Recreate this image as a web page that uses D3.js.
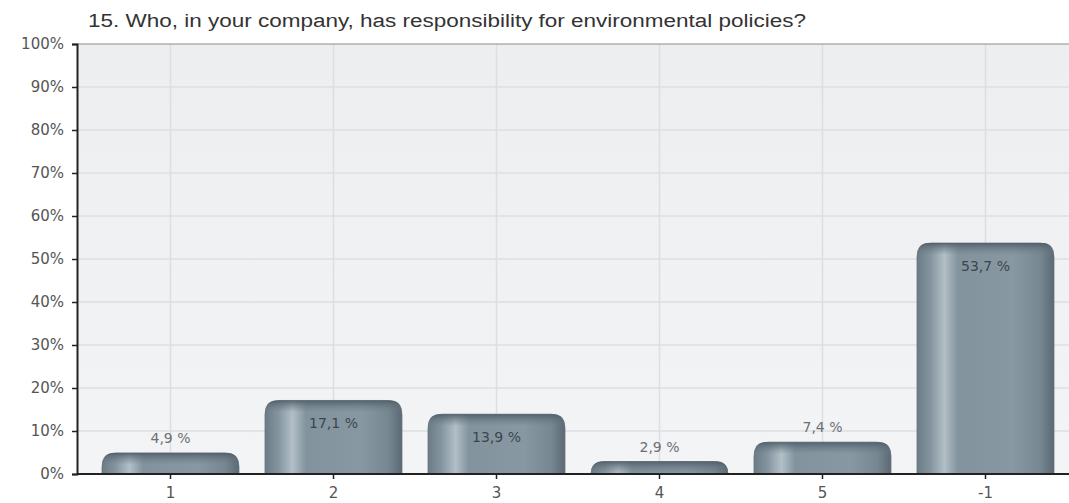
<!DOCTYPE html>
<html>
<head>
<meta charset="utf-8">
<script src="https://cdn.jsdelivr.net/npm/d3@7"></script>
<style>
  body { margin: 0; background: #fff; }
  svg { font-family: "DejaVu Sans", sans-serif; }
</style>
</head>
<body>
<script>
// chart data
var categories = ["1", "2", "3", "4", "5", "-1"];
var values = [4.9, 17.1, 13.9, 2.9, 7.4, 53.7];
var valueLabels = ["4,9 %", "17,1 %", "13,9 %", "2,9 %", "7,4 %", "53,7 %"];
var yTicks = [0, 10, 20, 30, 40, 50, 60, 70, 80, 90, 100];
var title = "15. Who, in your company, has responsibility for environmental policies?";

var width = 1069, height = 503;
var plotLeft = 77, plotRight = 1069, plotTop = 44, plotBottom = 474;

var svg = d3.select("body").append("svg")
  .attr("width", width)
  .attr("height", height);

var defs = svg.append("defs");

// background of plot area
var bg = defs.append("linearGradient").attr("id", "bg")
  .attr("x1", 0).attr("y1", 0).attr("x2", 0).attr("y2", 1);
bg.append("stop").attr("offset", "0%").attr("stop-color", "#eceef0");
bg.append("stop").attr("offset", "100%").attr("stop-color", "#f3f4f5");

// metallic bar body
var bar = defs.append("linearGradient").attr("id", "bar")
  .attr("x1", 0).attr("y1", 0).attr("x2", 1).attr("y2", 0);
bar.append("stop").attr("offset", "0%").attr("stop-color", "#6c7c87");
bar.append("stop").attr("offset", "10%").attr("stop-color", "#8595a0");
bar.append("stop").attr("offset", "20%").attr("stop-color", "#b2bfc7");
bar.append("stop").attr("offset", "30%").attr("stop-color", "#82939e");
bar.append("stop").attr("offset", "70%").attr("stop-color", "#8898a3");
bar.append("stop").attr("offset", "90%").attr("stop-color", "#778792");
bar.append("stop").attr("offset", "100%").attr("stop-color", "#5a6973");

// darker cap on the top of the bar
var cap = defs.append("linearGradient").attr("id", "cap")
  .attr("x1", 0).attr("y1", 0).attr("x2", 0).attr("y2", 1);
cap.append("stop").attr("offset", "0%").attr("stop-color", "#4e5c66").attr("stop-opacity", 0.9);
cap.append("stop").attr("offset", "100%").attr("stop-color", "#6d7d88").attr("stop-opacity", 0);

var x = d3.scaleBand()
  .domain(categories)
  .range([89, 1067])
  .paddingInner(0.16)
  .paddingOuter(0.08);

var y = d3.scaleLinear()
  .domain([0, 100])
  .range([plotBottom, plotTop]);

svg.append("rect")
  .attr("x", plotLeft).attr("y", plotTop)
  .attr("width", plotRight - plotLeft).attr("height", plotBottom - plotTop)
  .attr("fill", "url(#bg)");

// grid lines
svg.append("g").selectAll("line.h")
  .data(yTicks.slice(1, -1))
  .enter().append("line")
  .attr("x1", plotLeft).attr("x2", plotRight)
  .attr("y1", function(d) { return y(d); })
  .attr("y2", function(d) { return y(d); })
  .attr("stroke", "#dcdfe2").attr("stroke-width", 1.5);

svg.append("g").selectAll("line.v")
  .data(categories)
  .enter().append("line")
  .attr("x1", function(d) { return x(d) + x.bandwidth() / 2; })
  .attr("x2", function(d) { return x(d) + x.bandwidth() / 2; })
  .attr("y1", plotTop).attr("y2", plotBottom)
  .attr("stroke", "#dcdfe2").attr("stroke-width", 1.5);

// top border
svg.append("line")
  .attr("x1", plotLeft).attr("x2", plotRight)
  .attr("y1", plotTop).attr("y2", plotTop)
  .attr("stroke", "#8a8d90").attr("stroke-width", 1.2);

// bars with rounded top corners
function barPath(x0, w, top, bottom, r) {
  r = Math.min(r, bottom - top, w / 2);
  return "M" + x0 + "," + bottom +
    "V" + (top + r) +
    "Q" + x0 + "," + top + " " + (x0 + r) + "," + top +
    "H" + (x0 + w - r) +
    "Q" + (x0 + w) + "," + top + " " + (x0 + w) + "," + (top + r) +
    "V" + bottom + "Z";
}

var bars = svg.append("g").selectAll("g")
  .data(values)
  .enter().append("g");

bars.append("path")
  .attr("d", function(d, i) { return barPath(x(categories[i]), x.bandwidth(), y(d), plotBottom, 14); })
  .attr("fill", "url(#bar)")
  .attr("stroke", "#5f6d76").attr("stroke-width", 0.8);

bars.append("path")
  .attr("d", function(d, i) {
    var top = y(d), h = Math.min(12, plotBottom - top);
    return barPath(x(categories[i]), x.bandwidth(), top, top + h, 14);
  })
  .attr("fill", "url(#cap)");

// value labels: inside for tall bars, above for short ones
bars.append("text")
  .attr("x", function(d, i) { return x(categories[i]) + x.bandwidth() / 2; })
  .attr("y", function(d) { return d > 10 ? y(d) + 28 : y(d) - 10; })
  .attr("text-anchor", "middle")
  .attr("font-size", 14)
  .attr("fill", function(d) { return d > 10 ? "#3c454c" : "#6b7075"; })
  .text(function(d, i) { return valueLabels[i]; });

// axes
var yAxis = svg.append("g")
  .attr("transform", "translate(" + plotLeft + ",0)")
  .call(d3.axisLeft(y).tickValues(yTicks).tickFormat(function(d) { return d + "%"; }).tickSize(5).tickPadding(8));
yAxis.select(".domain").attr("stroke", "#222").attr("stroke-width", 2);
yAxis.selectAll(".tick line").attr("stroke", "#222").attr("stroke-width", 1.5);
yAxis.selectAll("text").attr("font-size", 15).attr("fill", "#555").attr("font-family", "DejaVu Sans, sans-serif");

var xAxis = svg.append("g")
  .attr("transform", "translate(0," + plotBottom + ")")
  .call(d3.axisBottom(x).tickSize(5).tickPadding(8));
xAxis.select(".domain").remove();
svg.append("line")
  .attr("x1", plotLeft).attr("x2", plotRight)
  .attr("y1", plotBottom).attr("y2", plotBottom)
  .attr("stroke", "#222").attr("stroke-width", 2);
xAxis.selectAll(".tick line").attr("stroke", "#222").attr("stroke-width", 1.5);
xAxis.selectAll("text").attr("font-size", 15).attr("fill", "#555").attr("font-family", "DejaVu Sans, sans-serif");

// title
svg.append("text")
  .attr("x", 88).attr("y", 27)
  .attr("font-family", "Liberation Sans, Arial, sans-serif")
  .attr("font-size", 18)
  .attr("fill", "#333")
  .attr("textLength", 718)
  .attr("lengthAdjust", "spacingAndGlyphs")
  .text(title);
</script>
</body>
</html>
